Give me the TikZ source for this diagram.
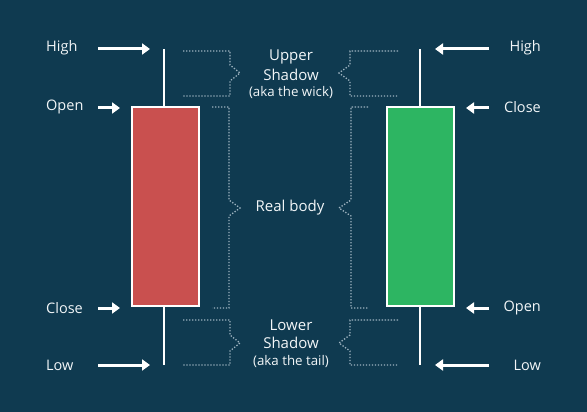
\documentclass[tikz,border=0pt]{standalone}
\usepackage{fontspec}
\setmainfont{Open Sans}
\usetikzlibrary{arrows.meta}
\definecolor{bgc}{HTML}{0F3A50}
\definecolor{redc}{HTML}{C9504F}
\definecolor{greenc}{HTML}{2DB562}
\definecolor{dotc}{HTML}{9DB3C0}
\definecolor{txtc}{HTML}{F2F6F8}
\tikzset{
  lbl/.style={text=txtc, font=\fontsize{14.5}{16}\selectfont, inner sep=0pt},
  midlbl/.style={text=txtc, align=center, inner sep=0pt},
  bigtxt/.style={font=\fontsize{15}{17}\selectfont},
  smalltxt/.style={font=\fontsize{13.3}{15}\selectfont},
  ptr/.style={draw=white, line width=3pt, -{Triangle[length=8pt,width=11pt]}},
  wickline/.style={draw=white, line width=2.6pt},
  bodybox/.style={draw=white, line width=2.6pt},
  bracket/.style={draw=dotc, line width=1.3pt, dash pattern=on 1.3pt off 1.7pt},
}
\begin{document}
\begin{tikzpicture}[x=1pt,y=-1pt]
\fill[bgc] (0,0) rectangle (587,412);
\useasboundingbox (0,0) rectangle (587,412);
% candles
\coordinate (lwt) at (164,49);
\coordinate (lwb) at (164,365);
\draw[wickline] (lwt) -- (lwb);
\draw[bodybox, fill=redc] (132,107) rectangle (199,306);
\coordinate (rwt) at (420,49);
\coordinate (rwb) at (420,365);
\draw[wickline] (rwt) -- (rwb);
\draw[bodybox, fill=greenc] (387,107) rectangle (454,306);
% left labels
\node[lbl, anchor=west] (lhigh) at (46,48) {High};
\node[lbl, anchor=west] (lopen) at (46,107) {Open};
\node[lbl, anchor=west] (lclose) at (46,308) {Close};
\node[lbl, anchor=west] (llow) at (46,365) {Low};
\coordinate (lhs) at (98,49); \coordinate (lht) at (150,49);
\coordinate (los) at (98,108); \coordinate (lot) at (120,108);
\coordinate (lcs) at (98,308); \coordinate (lct) at (120,308);
\coordinate (lls) at (98,365); \coordinate (llt) at (150,365);
\draw[ptr] (lhs) -- (lht);
\draw[ptr] (los) -- (lot);
\draw[ptr] (lcs) -- (lct);
\draw[ptr] (lls) -- (llt);
% right labels
\node[lbl, anchor=east] (rhigh) at (541,48) {High};
\node[lbl, anchor=east] (rclose) at (541,107) {Close};
\node[lbl, anchor=east] (ropen) at (541,308) {Open};
\node[lbl, anchor=east] (rlow) at (541,365) {Low};
\coordinate (rhs) at (489,49); \coordinate (rht) at (435,49);
\coordinate (rcs) at (489,108); \coordinate (rct) at (466,108);
\coordinate (ros) at (489,308); \coordinate (rot) at (466,308);
\coordinate (rls) at (489,365); \coordinate (rlt) at (435,365);
\draw[ptr] (rhs) -- (rht);
\draw[ptr] (rcs) -- (rct);
\draw[ptr] (ros) -- (rot);
\draw[ptr] (rls) -- (rlt);
% brackets left
\draw[bracket] (183,51) -- (230,51) -- (230,65) -- (240,73) -- (230,81) -- (230,96) -- (183,96);
\draw[bracket] (212,107) -- (229,107) -- (229,200) -- (240,208) -- (229,216) -- (229,308) -- (212,308);
\draw[bracket] (183,320) -- (230,320) -- (230,335) -- (240,343) -- (230,351) -- (230,365) -- (183,365);
% brackets right
\draw[bracket] (398,51) -- (350,51) -- (350,65) -- (339,73) -- (350,81) -- (350,96) -- (398,96);
\draw[bracket] (368,107) -- (351,107) -- (351,200) -- (339,208) -- (351,216) -- (351,308) -- (368,308);
\draw[bracket] (398,320) -- (350,320) -- (350,335) -- (339,343) -- (350,351) -- (350,365) -- (398,365);
% middle texts
\node[midlbl, bigtxt] (upper1) at (291,57) {Upper};
\node[midlbl, bigtxt] (upper2) at (291,75) {Shadow};
\node[midlbl, smalltxt] (upper3) at (291,93) {(aka the wick)};
\node[midlbl, bigtxt] (real) at (290,208) {Real body};
\node[midlbl, bigtxt] (lower1) at (291,325) {Lower};
\node[midlbl, bigtxt] (lower2) at (291,343) {Shadow};
\node[midlbl, smalltxt] (lower3) at (291,361) {(aka the tail)};
\end{tikzpicture}
\end{document}
